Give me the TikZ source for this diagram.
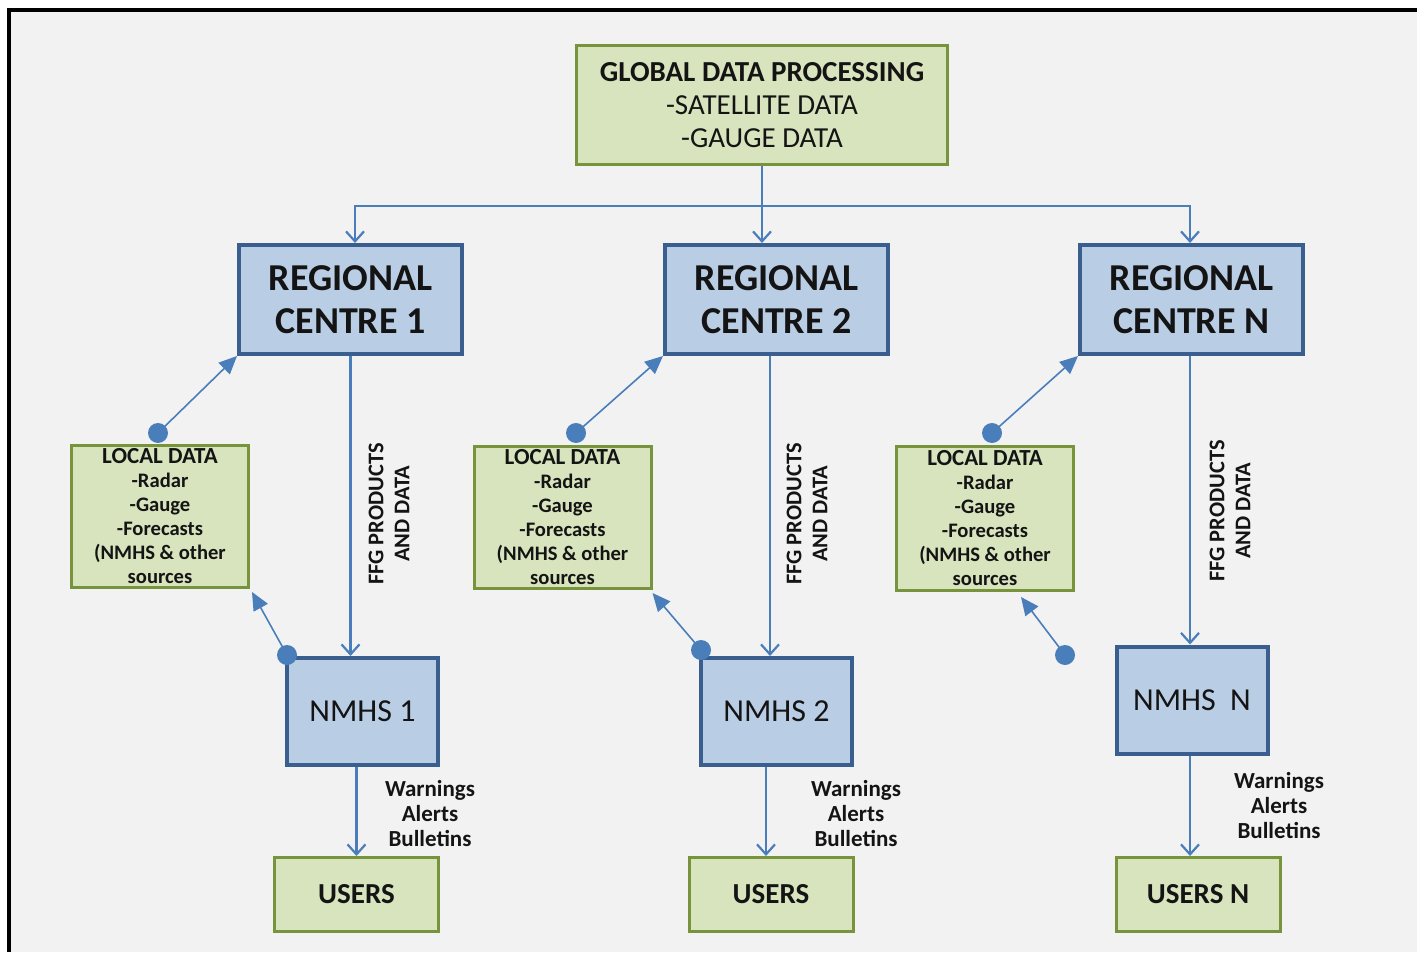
\documentclass[tikz,border=0pt]{standalone}
\usepackage{fontspec}
\setmainfont{Carlito}
\usetikzlibrary{arrows.meta,calc}
\definecolor{bgc}{HTML}{F2F2F2}
\definecolor{gfill}{HTML}{D7E4BD}
\definecolor{gline}{HTML}{77933C}
\definecolor{bfill}{HTML}{B9CDE5}
\definecolor{bline}{HTML}{3A5F8F}
\definecolor{linec}{HTML}{4A7EBB}
\definecolor{txtc}{HTML}{141414}
\newcommand{\locbox}{{\fontsize{11.5}{12}\selectfont LOCAL DATA}\\-Radar\\-Gauge\\-Forecasts\\(NMHS \& other\\sources}
\begin{document}
\begin{tikzpicture}[x=0.5pt,y=-0.5pt,
 gbox/.style={draw=gline,fill=gfill,line width=1.5pt,inner sep=0pt,align=center,text=txtc},
 bbox/.style={draw=bline,fill=bfill,line width=2pt,inner sep=0pt,align=center,text=txtc},
 arr/.style={draw=linec,line width=1.1pt,-{Straight Barb[length=5pt,width=9pt,line width=1.1pt]}},
 tri/.style={draw=linec,line width=0.8pt,-{Triangle[length=9pt,width=8pt]}},
 dotc/.style={fill=linec},
 lbl/.style={inner sep=0pt,align=center,text=txtc,font=\fontsize{11.5}{12.5}\selectfont\bfseries},
 ffg/.style={inner sep=0pt,align=center,text=txtc,rotate=90,font=\fontsize{11.2}{13}\selectfont\bfseries},
 locf/.style={font=\fontsize{10.3}{12}\selectfont\bfseries},
 regf/.style={font=\fontsize{19}{21.5}\selectfont\bfseries},
 nmf/.style={font=\fontsize{16}{18}\selectfont},
 usf/.style={font=\fontsize{14.5}{16}\selectfont\bfseries},
 ]
\useasboundingbox (0,0) rectangle (1417,952);
\fill[white] (0,0) rectangle (1417,952);
\fill[bgc] (9,10) rectangle (1417,952);
\draw[black,line width=2pt] (9,952) -- (9,10) -- (1417,10);

% top box
\node[gbox,minimum width=185.5pt,minimum height=59.5pt,font=\fontsize{14.5}{16.5}\selectfont] (glob) at (762,105)
  {\textbf{GLOBAL DATA PROCESSING}\\-SATELLITE DATA\\-GAUGE DATA};

% regional centres
\node[bbox,regf,minimum width=111.5pt,minimum height=54.5pt] (rc1) at (350.5,299.5) {REGIONAL\\CENTRE 1};
\node[bbox,regf,minimum width=111.5pt,minimum height=54.5pt] (rc2) at (776.5,299.5) {REGIONAL\\CENTRE 2};
\node[bbox,regf,minimum width=111.5pt,minimum height=54.5pt] (rcN) at (1191.5,299.5) {REGIONAL\\CENTRE N};

% local data
\node[gbox,locf,minimum width=88.5pt,minimum height=71pt] (ld1) at (160,516.5) {\locbox};
\node[gbox,locf,minimum width=88.5pt,minimum height=71pt] (ld2) at (562.5,517.5) {\locbox};
\node[gbox,locf,minimum width=88.5pt,minimum height=72pt] (ldN) at (985,518.5) {\locbox};

% NMHS
\node[bbox,nmf,minimum width=75.5pt,minimum height=53.5pt] (nm1) at (362.5,711.5) {NMHS 1};
\node[bbox,nmf,minimum width=75.5pt,minimum height=53.5pt] (nm2) at (776.5,711.5) {NMHS 2};
\node[bbox,nmf,minimum width=75.5pt,minimum height=53.5pt] (nmN) at (1192,700) {NMHS\ \ N};

% users
\node[gbox,usf,minimum width=82pt,minimum height=37pt] (us1) at (356.5,894.5) {USERS};
\node[gbox,usf,minimum width=82pt,minimum height=37pt] (us2) at (771,894.5) {USERS};
\node[gbox,usf,minimum width=82pt,minimum height=37pt] (usN) at (1198,894.5) {USERS N};

% distribution from global box
\coordinate (j) at (762,206);
\draw[arr] (glob.south) -- (glob.south |- rc2.north);
\draw[arr] (j) -| ([xshift=2.25pt]rc1.north);
\draw[arr] (j) -| ([xshift=-0.75pt]rcN.north);

% regional -> NMHS
\draw[arr] (rc1.south) -- (rc1.south |- nm1.north);
\draw[arr] ([xshift=-3.25pt]rc2.south) -- ([xshift=-3.25pt]rc2.south |- nm2.north);
\draw[arr] ([xshift=-0.75pt]rcN.south) -- ([xshift=-0.75pt]rcN.south |- nmN.north);

% NMHS -> users
\draw[arr] (us1.north |- nm1.south) -- (us1.north);
\draw[arr] ([xshift=-2.5pt]us2.north |- nm2.south) -- ([xshift=-2.5pt]us2.north);
\draw[arr] ([xshift=-1pt]nmN.south) -- ([xshift=-1pt]nmN.south |- usN.north);

% labels
\node[ffg] (f1) at (389,514) {FFG PRODUCTS\\AND DATA};
\node[ffg] (f2) at (807,514) {FFG PRODUCTS\\AND DATA};
\node[ffg] (fN) at (1230,511) {FFG PRODUCTS\\AND DATA};
\node[lbl] (w1) at (430,814) {Warnings\\Alerts\\Bulletins};
\node[lbl] (w2) at (856,814) {Warnings\\Alerts\\Bulletins};
\node[lbl] (wN) at (1279,806) {Warnings\\Alerts\\Bulletins};

% local data exchange connectors
\coordinate (d1) at (158,433);
\coordinate (d2) at (287,655);
\coordinate (d3) at (576,433);
\coordinate (d4) at (701,650);
\coordinate (d5) at (992,433);
\coordinate (d6) at (1065,655);
\coordinate (e6) at (1021,597);
\draw[tri] (d1) -- (rc1.south west);
\draw[tri] (d2) -- ([shift={(1pt,-1.5pt)}]ld1.south east);
\draw[tri] (d3) -- (rc2.south west);
\draw[tri] (d4) -- ([shift={(0pt,-1.5pt)}]ld2.south east);
\draw[tri] (d5) -- (rcN.south west);
\draw[tri] (d6) -- (e6);
\foreach \d in {d1,d2,d3,d4,d5,d6} \fill[dotc] (\d) circle (5pt);
\end{tikzpicture}
\end{document}
